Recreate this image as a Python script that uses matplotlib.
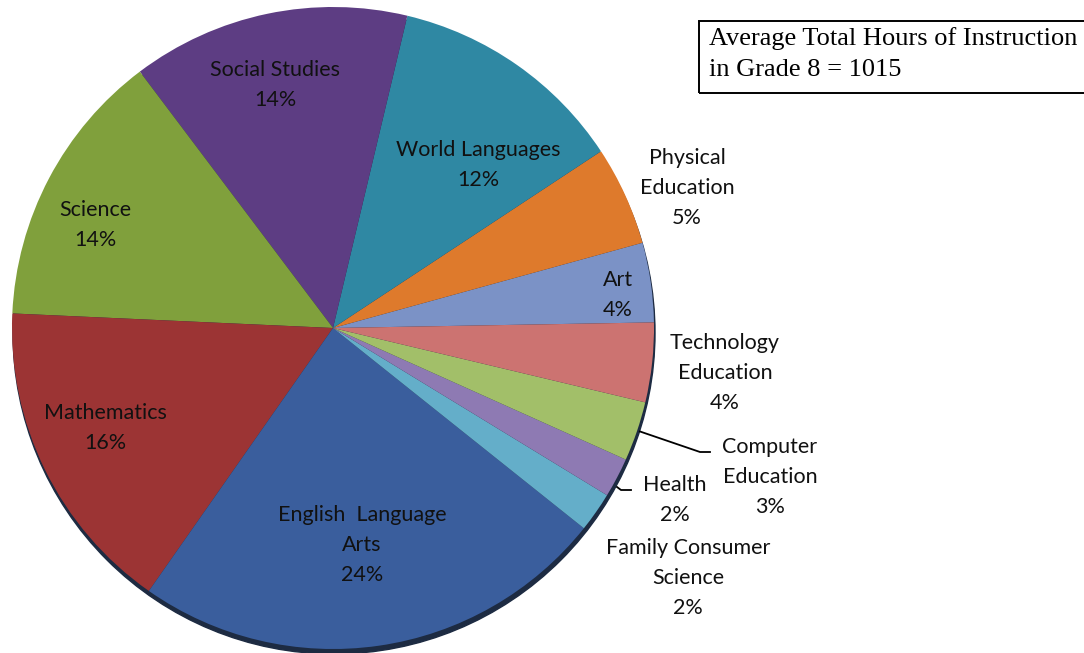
import matplotlib
matplotlib.use("Agg")
import matplotlib.pyplot as plt
import numpy as np
from matplotlib.patches import Circle, Rectangle

# share of instruction hours, Grade 8 (counter-clockwise from 3 o'clock)
subjects = ["Art", "Physical\nEducation", "World Languages", "Social Studies", "Science",
            "Mathematics", "English  Language\nArts", "Family Consumer\nScience", "Health",
            "Computer\nEducation", "Technology\nEducation"]
percents = [4, 5, 12, 14, 14, 16, 24, 2, 2, 3, 4]
colors = ["#7b92c6", "#de7a2c", "#2f88a3", "#5d3d83", "#80a03c", "#9c3434",
          "#3a5e9d", "#64aec9", "#8e7ab3", "#a2bf69", "#cc7371"]

# label anchor points in pixel coords (x, y from top)
label_xy = [(618, 295), (687, 188), (478, 165), (275, 85), (95, 225), (105, 428),
            (362, 545), (688, 578), (675, 500), (770, 477), (725, 373)]

W, H = 1084, 653
fig = plt.figure(figsize=(W / 100, H / 100), dpi=100)
ax = fig.add_axes([0, 0, 1, 1])

cx, cy, R = 333, H - 328, 321

# dark rim under the pie
ax.add_patch(Circle((cx + 1, cy - 5), R, color="#1d2b42", zorder=0))
wedges, _ = ax.pie(percents, colors=colors, startangle=1, counterclock=True,
                   center=(cx, cy), radius=R, wedgeprops=dict(linewidth=0))
for w in wedges:
    w.set_zorder(1)

ax.set_xlim(0, W)
ax.set_ylim(0, H)
ax.set_aspect("equal")
ax.axis("off")

font = dict(family=["Lato", "DejaVu Sans"], fontsize=15.5, color="#111111")
for name, p, (x, y) in zip(subjects, percents, label_xy):
    ax.text(x, H - y, f"{name}\n{p}%", ha="center", va="center",
            linespacing=1.62, zorder=3, **font)

# leader lines for the small slices
cum = np.cumsum([0] + percents)
for i, end in [(9, (700, 452)), (8, (617, 487))]:
    ang = np.deg2rad(1 + 3.6 * (cum[i] + cum[i + 1]) / 2)
    x0, y0 = cx + R * np.cos(ang), cy + R * np.sin(ang)
    if i == 9:
        ax.plot([x0 + 3, end[0], end[0] + 10], [y0, H - end[1], H - end[1]],
                color="black", lw=1.3, zorder=3)
    else:
        ax.plot([end[0], end[0] + 4, end[0] + 14], [H - end[1], H - end[1] - 3, H - end[1] - 3],
                color="black", lw=1.3, zorder=3)

# note box
ax.add_patch(Rectangle((699, H - 93), 400, 72, fill=False, ec="black", lw=1.4,
                       clip_on=False, zorder=3))
ax.text(709, H - 54, "Average Total Hours of Instruction\nin Grade 8 = 1015",
        ha="left", va="center", family="Liberation Serif", fontsize=19,
        linespacing=1.5, zorder=4)

fig.savefig("out.png", dpi=100)
